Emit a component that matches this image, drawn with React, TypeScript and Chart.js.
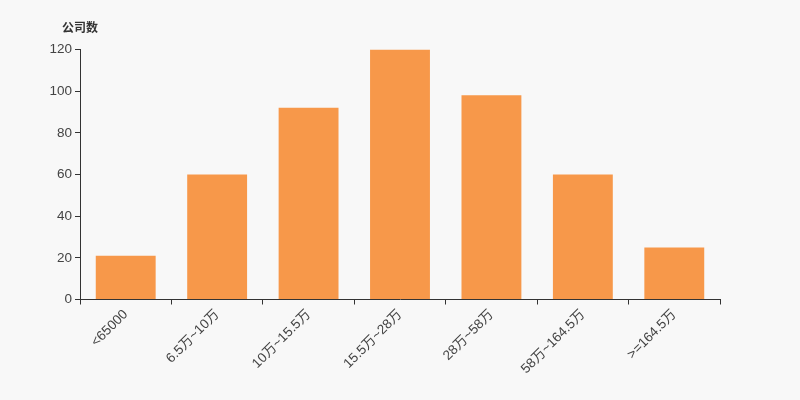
import React, { useEffect, useRef } from 'react';
import { Chart, registerables } from 'chart.js';

Chart.register(...registerables);

const categories = ['<65000', '6.5万~10万', '10万~15.5万', '15.5万~28万', '28万~58万', '58万~164.5万', '>=164.5万'];
const companyCounts = [21, 60, 92, 120, 98, 60, 25];
const yTicks = [0, 20, 40, 60, 80, 100, 120];

const FONT = '"Liberation Sans", "Noto Sans CJK SC", sans-serif';

// draws the axis name above the y axis
const axisNamePlugin = {
  id: 'axisName',
  afterDraw(chart: any) {
    const { ctx, chartArea } = chart;
    ctx.save();
    ctx.font = `bold 12px ${FONT}`;
    ctx.fillStyle = '#333';
    ctx.textAlign = 'center';
    ctx.textBaseline = 'middle';
    ctx.fillText('公司数', chartArea.left, chartArea.top - 21);
    ctx.restore();
  }
};

const App = () => {
  const chartRef = useRef<HTMLCanvasElement>(null);
  const chartInstance = useRef<Chart | null>(null);

  useEffect(() => {
    document.body.style.margin = '0';
    if (!chartRef.current) return;
    const ctx = chartRef.current.getContext('2d');
    if (!ctx) return;

    if (chartInstance.current) {
      chartInstance.current.destroy();
    }

    chartInstance.current = new Chart(ctx, {
      type: 'bar',
      data: {
        labels: categories,
        datasets: [{
          data: companyCounts,
          backgroundColor: '#f7984a',
          barPercentage: 0.655,
          categoryPercentage: 1
        }]
      },
      options: {
        responsive: false,
        animation: false,
        layout: { padding: { top: 49.5, right: 80, left: 0, bottom: 0 } },
        plugins: {
          legend: { display: false },
          tooltip: { enabled: false }
        },
        scales: {
          x: {
            offset: true,
            grid: { drawOnChartArea: false, drawTicks: true, tickLength: 5, color: '#333' },
            border: { display: true, color: '#333', width: 1 },
            ticks: {
              color: '#444',
              font: { family: FONT, size: 13.5 },
              minRotation: 45,
              maxRotation: 45,
              autoSkip: false,
              padding: 2
            },
            afterFit: (scale: any) => { scale.height = 100.5; }
          },
          y: {
            min: 0,
            max: 120,
            afterBuildTicks: (scale: any) => { scale.ticks = yTicks.map(v => ({ value: v })); },
            grid: { drawOnChartArea: false, drawTicks: true, tickLength: 5, color: '#333' },
            border: { display: true, color: '#333', width: 1 },
            ticks: {
              color: '#444',
              font: { family: FONT, size: 13.5 },
              padding: 3
            },
            afterFit: (scale: any) => { scale.width = 80; }
          }
        }
      },
      plugins: [axisNamePlugin]
    });

    return () => {
      if (chartInstance.current) {
        chartInstance.current.destroy();
        chartInstance.current = null;
      }
    };
  }, []);

  return (
    <div style={{ width: 800, height: 400, background: '#f8f8f8' }}>
      <canvas ref={chartRef} width={800} height={400} />
    </div>
  );
};

export default App;
